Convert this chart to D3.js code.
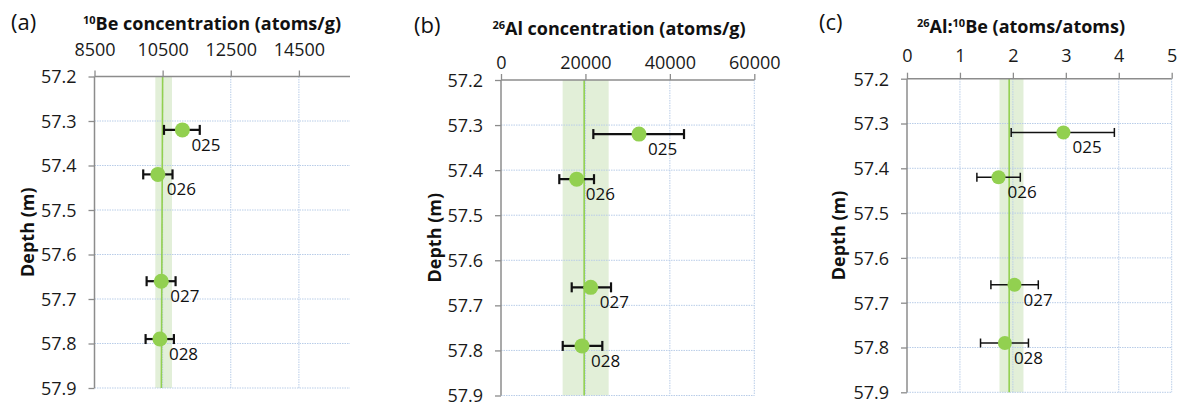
<!DOCTYPE html>
<html>
<head>
<meta charset="utf-8">
<script src="https://cdn.jsdelivr.net/npm/d3@7"></script>
<style>
  html, body { margin: 0; padding: 0; background: #ffffff; }
  svg { display: block; font-family: "Open Sans", "Noto Sans", sans-serif; }
</style>
</head>
<body>
<svg id="chart" width="1181" height="407"></svg>
<script>
// ---------------- data ----------------
const sampleIds = ["025", "026", "027", "028"];
const depths = [57.32, 57.42, 57.66, 57.79];
const depthTicks = [57.2, 57.3, 57.4, 57.5, 57.6, 57.7, 57.8, 57.9];

// (a) 10Be concentration (atoms/g)
const beValues = [11080, 10360, 10460, 10420];
const beLow    = [10540,  9930, 10030, 10000];
const beHigh   = [11590, 10790, 10880, 10830];
const beBand   = [10285, 10774];
const beMean   = [10500, 10462];   // at 57.2 m and 57.9 m
const beTicks  = [8500, 10500, 12500, 14500];

// (b) 26Al concentration (atoms/g)
const alValues = [32690, 17930, 21250, 19190];
const alLow    = [21870, 13810, 16750, 14620];
const alHigh   = [43350, 22030, 26060, 24000];
const alBand   = [14600, 25500];
const alMean   = [19700, 19700];
const alTicks  = [0, 20000, 40000, 60000];

// (c) 26Al:10Be ratio
const ratioValues = [2.955, 1.729, 2.03, 1.849];
const ratioLow    = [1.968, 1.32, 1.585, 1.389];
const ratioHigh   = [3.917, 2.14, 2.48, 2.294];
const ratioBand   = [1.747, 2.2];
const ratioMean   = [1.93, 1.93];
const ratioTicks  = [0, 1, 2, 3, 4, 5];

// ---------------- drawing ----------------
const svg = d3.select("#chart");
const GREEN = "#92d050";
const BAND = "#e2efd8";
const GRID = "#b9cde8";
const AXIS = "#8c8c8c";

const panels = [
  { tag: "(a)", tagX: 11, tagY: 22,
    titleParts: [["10", true], ["Be concentration (atoms/g)", false]],
    titleX: 212, titleY: 30, tickLabelY: 50,
    domain: [8500, 16000], ticks: beTicks, left: 94.5, right: 350, top: 76.5, bottom: 388,
    values: beValues, low: beLow, high: beHigh, band: beBand, mean: beMean,
    depthLabelX: 28, errW: 2.2, capH: 5, r: 7.5, fmt: d => String(d) },
  { tag: "(b)", tagX: 414, tagY: 25,
    titleParts: [["26", true], ["Al concentration (atoms/g)", false]],
    titleX: 619, titleY: 35, tickLabelY: 63,
    domain: [0, 60000], ticks: alTicks, left: 501, right: 754.3, top: 80, bottom: 395.5,
    values: alValues, low: alLow, high: alHigh, band: alBand, mean: alMean,
    depthLabelX: 434.5, errW: 2.2, capH: 5, r: 7.5, fmt: d => String(d) },
  { tag: "(c)", tagX: 819, tagY: 22,
    titleParts: [["26", true], ["Al:", false], ["10", true], ["Be (atoms/atoms)", false]],
    titleX: 1021, titleY: 33, tickLabelY: 56,
    domain: [0, 5], ticks: ratioTicks, left: 907, right: 1171.7, top: 78.7, bottom: 392.3,
    values: ratioValues, low: ratioLow, high: ratioHigh, band: ratioBand, mean: ratioMean,
    depthLabelX: 838.5, errW: 1.5, capH: 4.5, r: 7, fmt: d => String(d) }
];

panels.forEach(p => {
  const x = d3.scaleLinear().domain(p.domain).range([p.left, p.right]);
  const y = d3.scaleLinear().domain([57.2, 57.9]).range([p.top, p.bottom]);
  const g = svg.append("g");

  // band
  g.append("rect")
    .attr("x", x(p.band[0])).attr("width", x(p.band[1]) - x(p.band[0]))
    .attr("y", y(57.2)).attr("height", y(57.9) - y(57.2))
    .attr("fill", BAND);

  // horizontal grid
  g.selectAll(".hgrid").data(depthTicks.slice(1)).join("line")
    .attr("x1", p.left).attr("x2", p.right)
    .attr("y1", d => y(d)).attr("y2", d => y(d))
    .attr("stroke", GRID).attr("stroke-width", 1).attr("stroke-dasharray", "1.5,1");

  // vertical grid
  g.selectAll(".vgrid").data(p.ticks.slice(1)).join("line")
    .attr("x1", d => x(d)).attr("x2", d => x(d))
    .attr("y1", p.top).attr("y2", p.bottom)
    .attr("stroke", GRID).attr("stroke-width", 1).attr("stroke-dasharray", "1.5,1");

  // mean line
  g.append("line")
    .attr("x1", x(p.mean[0])).attr("x2", x(p.mean[1]))
    .attr("y1", y(57.2)).attr("y2", y(57.9))
    .attr("stroke", GREEN).attr("stroke-width", 1.6);

  // top axis
  const ax = d3.axisTop(x).tickValues(p.ticks).tickSize(6).tickFormat(p.fmt);
  const axG = g.append("g").attr("transform", `translate(0,${p.top})`).call(ax);
  axG.select(".domain").attr("stroke", AXIS).attr("stroke-width", 1.5)
    .attr("d", `M${p.left},0H${p.right}`);
  axG.selectAll(".tick line").attr("stroke", AXIS).attr("stroke-width", 1.3);
  axG.selectAll(".tick text")
    .attr("y", p.tickLabelY - p.top).attr("dy", "0.35em")
    .attr("font-size", 18).attr("fill", "#1a1a1a").attr("font-family", "Open Sans");

  // left axis
  const ay = d3.axisLeft(y).tickValues(depthTicks).tickSize(6).tickFormat(d3.format(".1f"));
  const ayG = g.append("g").attr("transform", `translate(${p.left},0)`).call(ay);
  ayG.select(".domain").attr("stroke", AXIS).attr("stroke-width", 1.5)
    .attr("d", `M0,${p.top}V${p.bottom}`);
  ayG.selectAll(".tick line").attr("stroke", AXIS).attr("stroke-width", 1.3);
  ayG.selectAll(".tick text")
    .attr("x", -18).attr("dy", "0.35em")
    .attr("font-size", 18).attr("fill", "#1a1a1a").attr("font-family", "Open Sans");

  // title
  const t = g.append("text").attr("x", p.titleX).attr("y", p.titleY).attr("dy", "0.35em")
    .attr("text-anchor", "middle").attr("font-size", 18).attr("font-weight", "bold").attr("fill", "#111");
  p.titleParts.forEach(([s, sup]) => {
    if (sup) t.append("tspan").attr("font-size", 11).attr("dy", -6).text(s);
    else t.append("tspan").attr("dy", 6).text(s);
  });

  // panel tag
  g.append("text").attr("x", p.tagX).attr("y", p.tagY).attr("dy", "0.35em")
    .attr("font-size", 22).attr("fill", "#111").text(p.tag);

  // depth label
  g.append("text")
    .attr("transform", `translate(${p.depthLabelX},${(p.top + p.bottom) / 2}) rotate(-90)`)
    .attr("dy", "0.35em").attr("text-anchor", "middle")
    .attr("font-size", 18).attr("font-weight", "bold").attr("fill", "#111").text("Depth (m)");

  const idx = d3.range(depths.length);
  // error bars
  g.selectAll(".err").data(idx).join("line")
    .attr("x1", i => x(p.low[i])).attr("x2", i => x(p.high[i]))
    .attr("y1", i => y(depths[i])).attr("y2", i => y(depths[i]))
    .attr("stroke", "#111").attr("stroke-width", p.errW);
  g.selectAll(".capL").data(idx).join("line")
    .attr("x1", i => x(p.low[i])).attr("x2", i => x(p.low[i]))
    .attr("y1", i => y(depths[i]) - p.capH).attr("y2", i => y(depths[i]) + p.capH)
    .attr("stroke", "#111").attr("stroke-width", p.errW);
  g.selectAll(".capR").data(idx).join("line")
    .attr("x1", i => x(p.high[i])).attr("x2", i => x(p.high[i]))
    .attr("y1", i => y(depths[i]) - p.capH).attr("y2", i => y(depths[i]) + p.capH)
    .attr("stroke", "#111").attr("stroke-width", p.errW);

  // points
  g.selectAll(".pt").data(idx).join("circle")
    .attr("cx", i => x(p.values[i])).attr("cy", i => y(depths[i]))
    .attr("r", p.r).attr("fill", GREEN);

  // sample labels
  g.selectAll(".lbl").data(idx).join("text")
    .attr("x", i => x(p.values[i]) + 9).attr("y", i => y(depths[i]) + 21)
    .attr("font-size", 17).attr("fill", "#111").text(i => sampleIds[i]);
});
</script>
</body>
</html>
